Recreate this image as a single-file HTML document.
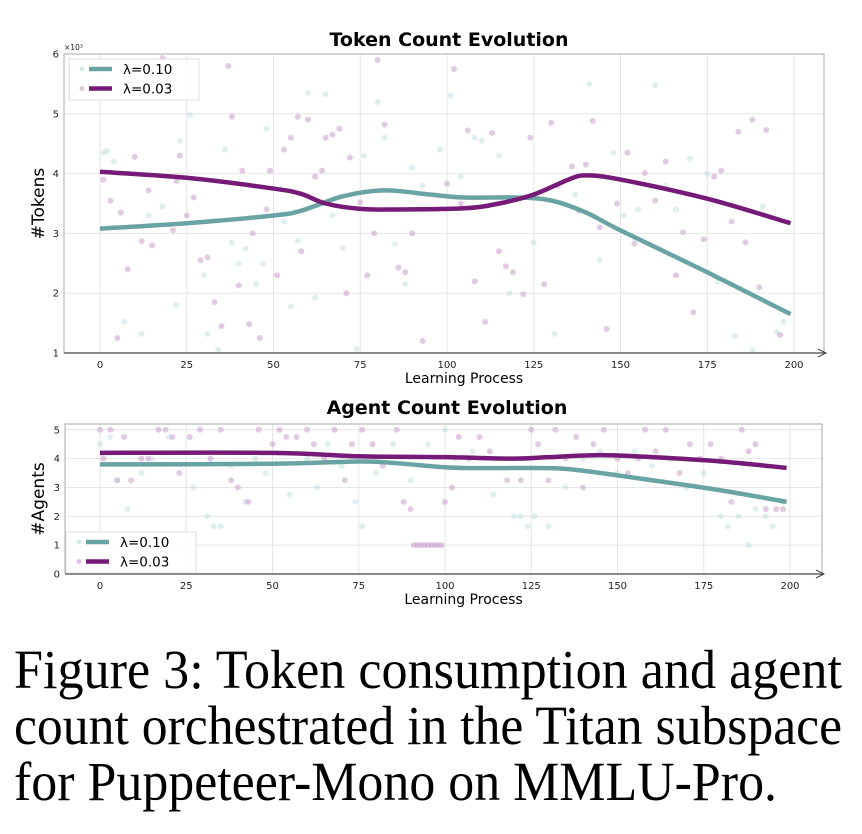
<!DOCTYPE html>
<html><head><meta charset="utf-8"><style>
html,body{margin:0;padding:0;background:#fff;}
svg{display:block;font-family:"DejaVu Sans","Liberation Sans",sans-serif;}
</style></head><body>
<svg id="fig" width="862" height="834" viewBox="0 0 862 834">
<g id="top"></g>
<g id="bot"></g>
<g font-family="'Liberation Serif',serif" font-size="55" fill="#000">
<text x="14" y="688" textLength="828" lengthAdjust="spacingAndGlyphs">Figure 3: Token consumption and agent</text>
<text x="14" y="744" textLength="828" lengthAdjust="spacingAndGlyphs">count orchestrated in the Titan subspace</text>
<text x="14" y="800" textLength="763" lengthAdjust="spacingAndGlyphs">for Puppeteer-Mono on MMLU-Pro.</text>
</g>
</svg>
<script>
// ---- Token chart data ----
const xTicks = [0,25,50,75,100,125,150,175,200];
const tokYTicks = [1,2,3,4,5,6];
const agYTicks = [0,1,2,3,4,5];
const tokTealLineX = [0,25,50,58,70,82,95,105,120,130,140,150,175,199];
const tokTealLineY = [3.08,3.17,3.3,3.38,3.62,3.72,3.65,3.6,3.6,3.55,3.35,3.05,2.35,1.65];
const tokPurpLineX = [0,25,50,58,65,75,85,105,115,125,135,140,150,175,199];
const tokPurpLineY = [4.03,3.93,3.75,3.66,3.5,3.41,3.4,3.42,3.5,3.65,3.9,3.97,3.9,3.58,3.17];
const tokTealPtsX = [1,2,4,7,12,14,18,22,23,26,30,31,34,36,38,40,42,45,47,48,53,55,57,60,62,65,67,70,74,76,80,82,85,88,90,93,98,101,104,108,110,115,118,125,131,137,141,144,148,151,155,160,163,166,170,175,178,183,188,191,195,197];
const tokTealPtsY = [4.35,4.38,4.2,1.52,1.32,3.3,3.45,1.8,4.55,4.98,2.3,1.32,1.05,4.4,2.85,2.5,2.75,2.15,2.5,4.75,3.2,1.78,2.88,5.35,1.93,5.33,3.3,2.75,1.07,4.3,5.2,4.6,2.82,2.15,4.1,3.8,4.4,5.3,3.95,4.6,4.55,4.3,2.0,2.85,1.32,3.65,5.5,2.55,4.35,3.3,3.4,5.48,3.8,3.4,4.25,4.0,2.2,1.28,1.05,3.45,1.35,1.52];
const tokPurpPtsX = [1,3,5,6,8,10,12,14,15,18,21,22,23,25,27,29,31,33,35,37,38,40,41,43,44,46,48,49,51,53,55,57,58,60,62,64,65,67,69,71,72,75,77,79,80,82,86,88,90,93,100,102,104,106,108,111,113,115,117,119,122,124,128,130,132,136,138,140,142,144,146,149,152,154,157,160,163,166,168,171,174,177,179,182,184,186,188,190,192,196];
const tokPurpPtsY = [3.9,3.55,1.25,3.35,2.4,4.28,2.87,3.72,2.8,5.93,3.05,3.88,4.3,3.3,3.6,2.55,2.6,1.85,1.45,5.8,4.95,2.13,4.05,1.48,3.0,1.25,3.4,4.05,2.3,4.4,4.6,4.95,2.7,4.9,3.95,4.05,4.6,4.65,4.75,2.0,4.27,3.52,2.3,3.0,5.9,4.82,2.43,2.35,3.0,1.2,3.83,5.75,3.5,4.72,2.2,1.52,4.68,2.7,2.45,2.35,1.98,4.6,2.15,4.85,3.8,4.12,3.38,4.15,4.88,3.1,1.4,3.5,4.35,2.83,4.01,3.55,4.2,2.3,3.02,1.68,2.9,3.95,4.05,3.2,4.7,2.85,4.9,2.1,4.73,1.3];
// ---- Agent chart data ----
const agTealLineX = [0,50,75,85,100,110,130,140,160,180,199];
const agTealLineY = [3.8,3.82,3.9,3.85,3.7,3.67,3.67,3.58,3.25,2.9,2.5];
const agPurpLineX = [0,50,75,100,120,130,145,160,180,199];
const agPurpLineY = [4.2,4.2,4.08,4.05,4.0,4.05,4.12,4.05,3.9,3.68];
const agTealPtsX = [0,3,5,8,12,15,20,27,31,33,35,38,42,45,48,55,60,63,66,70,74,76,80,85,90,95,100,103,108,114,120,122,124,126,130,135,140,145,150,155,160,165,170,175,180,182,185,188,190,193,195,198];
const agTealPtsY = [4.5,4.75,3.25,2.25,3.5,4.0,4.75,3.0,2.0,1.65,1.65,3.75,2.5,4.0,3.5,2.75,4.0,3.0,4.5,3.75,2.5,1.65,3.5,4.5,3.25,4.5,5.0,4.0,4.25,2.75,2.0,2.0,1.65,2.0,1.65,3.0,4.0,4.25,3.5,4.25,3.75,4.0,3.0,3.5,2.0,1.65,2.0,1.0,2.25,2.0,1.65,2.5];
const agPurpPtsX = [0,1,3,5,7,9,12,14,17,19,21,23,26,29,32,35,38,40,43,46,50,52,54,57,60,62,65,68,71,73,76,79,82,86,88,90,91,92,93,94,95,96,97,98,99,100,102,104,107,110,113,118,122,125,127,130,132,135,138,140,143,146,150,153,156,158,161,164,168,171,174,177,180,183,186,188,190,193,196,198];
const agPurpPtsY = [5.0,4.0,5.0,3.25,4.75,3.25,4.0,4.0,5.0,5.0,4.75,3.5,4.75,5.0,4.0,5.0,3.25,3.0,2.5,5.0,4.5,5.0,4.75,4.75,5.0,4.5,4.0,5.0,3.25,4.5,5.0,4.5,3.75,5.0,2.5,2.25,1.0,1.0,1.0,1.0,1.0,1.0,1.0,1.0,1.0,2.5,3.0,4.75,4.0,4.75,4.25,3.25,3.25,5.0,4.5,3.25,5.0,4.0,4.75,3.0,4.5,5.0,4.0,3.5,4.0,5.0,4.25,5.0,3.5,4.5,4.0,4.5,4.0,2.5,5.0,4.25,4.5,2.25,2.25,2.25];

const NS = "http://www.w3.org/2000/svg";
const TEAL = "#6aa3a3", PURP = "#761a78";
function mk(parent, tag, attrs){const e=document.createElementNS(NS,tag);for(const k in attrs)e.setAttribute(k,attrs[k]);parent.appendChild(e);return e;}
function smoothPath(pts){
  let d="M"+pts[0][0]+","+pts[0][1];
  for(let i=0;i<pts.length-1;i++){
    const p0=pts[i-1]||pts[i],p1=pts[i],p2=pts[i+1],p3=pts[i+2]||p2;
    const c1x=p1[0]+(p2[0]-p0[0])/6,c1y=p1[1]+(p2[1]-p0[1])/6;
    const c2x=p2[0]-(p3[0]-p1[0])/6,c2y=p2[1]-(p3[1]-p1[1])/6;
    d+=" C"+c1x+","+c1y+" "+c2x+","+c2y+" "+p2[0]+","+p2[1];
  }
  return d;
}
function chart(g, cfg){
  const sx=v=>cfg.x0+v*cfg.kx;
  const sy=v=>cfg.yb-(v-cfg.ymin)/(cfg.ymax-cfg.ymin)*(cfg.yb-cfg.yt);
  xTicks.forEach(t=>{
    const l=mk(g,"line",{x1:sx(t),x2:sx(t),y1:cfg.yt,y2:cfg.yb,stroke:"#e6e6e6","stroke-width":1});
    
    
    const tx=mk(g,"text",{x:sx(t),y:cfg.yb+15,"font-size":10,"text-anchor":"middle",fill:"#222"});
    tx.textContent=t;
    
    
  });
  cfg.yTicks.forEach(t=>{
    const l=mk(g,"line",{x1:cfg.xl,x2:cfg.xr,y1:sy(t),y2:sy(t),stroke:"#e6e6e6","stroke-width":1});
    
    
    const tx=mk(g,"text",{x:cfg.xl-5,y:sy(t)+3.5,"font-size":10,"text-anchor":"end",fill:"#222"});
    tx.textContent=t;
    
    
  });
  const fr=mk(g,"path",{d:`M${cfg.xl},${cfg.yb} L${cfg.xl},${cfg.yt} L${cfg.xr},${cfg.yt} L${cfg.xr},${cfg.yb}`,fill:"none",stroke:"#aaa","stroke-width":1});
  
  
  [[cfg.tpx,cfg.tpy,"#b9dcdc",0.45],[cfg.ppx,cfg.ppy,"#c9a0cc",0.55]].forEach(([xs,ys,c,o])=>{
    xs.forEach((xv,i)=>{
      const p=mk(g,"circle",{cx:sx(xv),cy:sy(ys[i]),r:3,fill:c,"fill-opacity":o});
      
      
    });
  });
  [[cfg.tlx,cfg.tly,TEAL,'teal-trend-line'],[cfg.plx,cfg.ply,PURP,'purple-trend-line']].forEach(([xs,ys,c,n])=>{
    const pts=xs.map((xv,i)=>[sx(xv),sy(ys[i])]);
    const p=mk(g,"path",{d:smoothPath(pts),fill:"none",stroke:c,"stroke-width":4.5});
    
    
  });
  const ax=mk(g,"line",{x1:cfg.xl,x2:cfg.xr+2,y1:cfg.yb,y2:cfg.yb,stroke:"#444","stroke-width":1.2});
  
  
  const ar=mk(g,"path",{d:`M${cfg.xr-6},${cfg.yb-4} L${cfg.xr+2},${cfg.yb} L${cfg.xr-6},${cfg.yb+4}`,fill:"none",stroke:"#444","stroke-width":1});
  
  
  const ti=mk(g,"text",{x:cfg.titleX,y:cfg.titleY,"font-size":19,"font-weight":"bold","text-anchor":"middle",fill:"#000"});
  ti.textContent=cfg.title;
  
  
  const xl=mk(g,"text",{x:(cfg.xl+cfg.xr)/2+20,y:cfg.yb+30,"font-size":14,"text-anchor":"middle",fill:"#000"});
  xl.textContent="Learning Process";
  
  
  const yl=mk(g,"text",{x:0,y:0,"font-size":17,"text-anchor":"middle",fill:"#000",transform:`translate(${cfg.ylX},${(cfg.yt+cfg.yb)/2}) rotate(-90)`});
  yl.textContent=cfg.ylabel;
  
  
  const lg=mk(g,"g",{});
  
  
  mk(lg,"rect",{x:cfg.lgX,y:cfg.lgY,width:130,height:41,fill:"#fff","fill-opacity":0.85,stroke:"#ddd"});
  [["λ=0.10",TEAL,"#b9dcdc"],["λ=0.03",PURP,"#c9a0cc"]].forEach(([t,c,pc],i)=>{
    const yy=cfg.lgY+10+i*19.5;
    const e=mk(lg,"g",{});
    
    
    mk(e,"circle",{cx:cfg.lgX+13,cy:yy,r:2.5,fill:pc,"fill-opacity":0.6});
    mk(e,"line",{x1:cfg.lgX+20,x2:cfg.lgX+43,y1:yy,y2:yy,stroke:c,"stroke-width":4.5});
    const tx=mk(e,"text",{x:cfg.lgX+54,y:yy+5,"font-size":13.5,fill:"#000"});
    tx.textContent=t;
  });
  if(cfg.exp){
    const e=mk(g,"text",{x:cfg.xl,y:cfg.yt-4,"font-size":7.5,fill:"#222"});
    e.textContent="×10³";
    
    
  }
}
chart(document.getElementById('top'),{x0:100,kx:3.47,xl:64,xr:824,yt:54,yb:353,ymin:1,ymax:6,yTicks:tokYTicks,
  tpx:tokTealPtsX,tpy:tokTealPtsY,ppx:tokPurpPtsX,ppy:tokPurpPtsY,tlx:tokTealLineX,tly:tokTealLineY,plx:tokPurpLineX,ply:tokPurpLineY,
  title:"Token Count Evolution",titleX:449,titleY:46,ylabel:"#Tokens",ylX:44,lgX:69,lgY:59,exp:true});
chart(document.getElementById('bot'),{x0:100,kx:3.45,xl:65,xr:822,yt:424,yb:574,ymin:0,ymax:5.2,yTicks:agYTicks,
  tpx:agTealPtsX,tpy:agTealPtsY,ppx:agPurpPtsX,ppy:agPurpPtsY,tlx:agTealLineX,tly:agTealLineY,plx:agPurpLineX,ply:agPurpLineY,
  title:"Agent Count Evolution",titleX:447,titleY:414,ylabel:"#Agents",ylX:44,lgX:66,lgY:532,exp:false});
</script>
</body></html>
